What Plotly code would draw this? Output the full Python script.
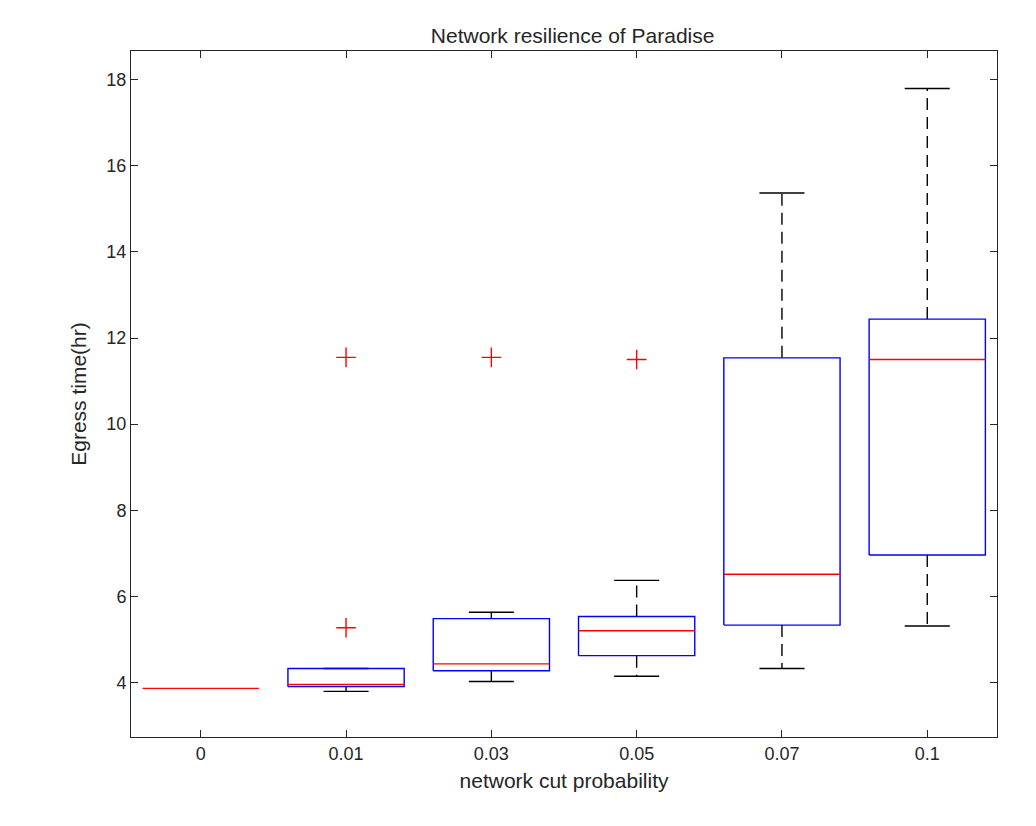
import plotly.graph_objects as go

categories = ["0", "0.01", "0.03", "0.05", "0.07", "0.1"]
q1 = [3.86, 3.90, 4.27, 4.62, 5.33, 6.96]
median = [3.86, 3.95, 4.43, 5.20, 6.51, 11.50]
q3 = [3.86, 4.32, 5.48, 5.53, 11.54, 12.44]
lower = [3.86, 3.79, 4.02, 4.14, 4.32, 5.31]
upper = [3.86, 4.32, 5.63, 6.37, 15.37, 17.80]
outlier_cat = [1, 1, 2, 3]
outlier_val = [11.55, 5.27, 11.55, 11.50]

hw, cw = 0.4, 0.155
pos = list(range(1, len(categories) + 1))

bx, by, mx, my, wx, wy, cx, cy = [], [], [], [], [], [], [], []
for i, p in enumerate(pos):
    if q3[i] > q1[i]:
        bx += [p-hw, p+hw, p+hw, p-hw, p-hw, None]
        by += [q1[i], q1[i], q3[i], q3[i], q1[i], None]
    mx += [p-hw, p+hw, None]; my += [median[i], median[i], None]
    if upper[i] > q3[i]:
        wx += [p, p, None]; wy += [q3[i], upper[i], None]
    if lower[i] < q1[i]:
        wx += [p, p, None]; wy += [q1[i], lower[i], None]
    if upper[i] > lower[i]:
        cx += [p-cw, p+cw, None, p-cw, p+cw, None]
        cy += [upper[i], upper[i], None, lower[i], lower[i], None]

fig = go.Figure()
fig.add_trace(go.Scatter(x=wx, y=wy, mode="lines", line=dict(color="black", width=1.4, dash="12px,7px")))
fig.add_trace(go.Scatter(x=cx, y=cy, mode="lines", line=dict(color="black", width=1.4)))
fig.add_trace(go.Scatter(x=bx, y=by, mode="lines", line=dict(color="#0000ff", width=1.4)))
fig.add_trace(go.Scatter(x=mx, y=my, mode="lines", line=dict(color="#ff0000", width=1.4)))
fig.add_trace(go.Scatter(x=[pos[c] for c in outlier_cat], y=outlier_val, mode="markers",
                         marker=dict(symbol="cross-thin", size=14, line=dict(color="#ff0000", width=1.4))))

axis = dict(showline=True, linecolor="#262626", linewidth=1, mirror="ticks", ticks="inside",
            ticklen=7, tickcolor="#262626", showgrid=False, zeroline=False,
            tickfont=dict(size=18, color="#262626"))
fig.update_layout(
    width=1036, height=826, showlegend=False, plot_bgcolor="white", paper_bgcolor="white",
    font=dict(family="Liberation Sans, Arial", color="#262626"),
    margin=dict(l=123, r=47, t=43, b=97),
    title=dict(text="Network resilience of Paradise", x=0.545, xanchor="center", y=0.975, font=dict(size=21)),
    xaxis=dict(axis, range=[0.52, 6.48], tickvals=pos, ticktext=categories,
               title=dict(text="network cut probability", font=dict(size=21), standoff=10)),
    yaxis=dict(axis, range=[2.73, 18.67], tickvals=[4, 6, 8, 10, 12, 14, 16, 18],
               title=dict(text="Egress time(hr)", font=dict(size=21), standoff=14)),
)
fig.write_html("out.html")
